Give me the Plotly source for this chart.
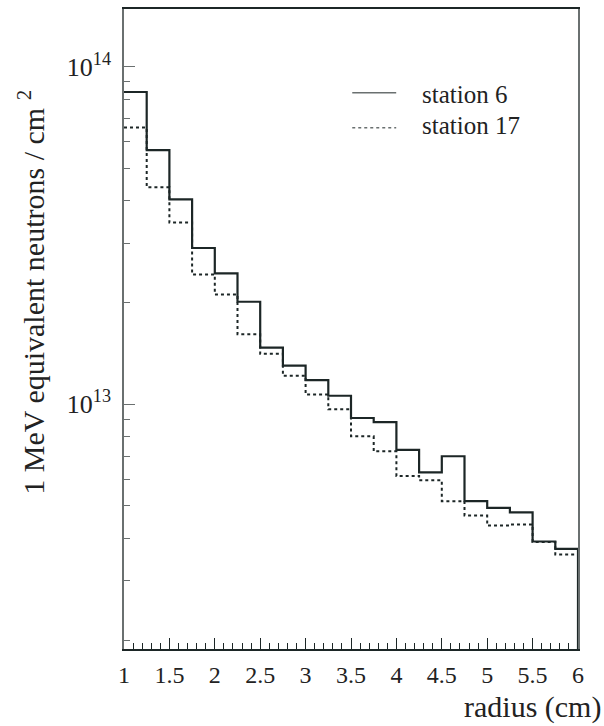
import plotly.graph_objects as go

# bin edges (radius, cm)
bin_edges = [1.0, 1.25, 1.5, 1.75, 2.0, 2.25, 2.5, 2.75, 3.0, 3.25, 3.5,
             3.75, 4.0, 4.25, 4.5, 4.75, 5.0, 5.25, 5.5, 5.75, 6.0]

# 1 MeV equivalent neutron fluence per bin (neutrons / cm^2)
station6 = [8.4e13, 5.65e13, 4.04e13, 2.90e13, 2.44e13, 2.01e13, 1.47e13, 1.30e13,
            1.178e13, 1.059e13, 9.1e12, 8.85e12, 7.32e12, 6.28e12, 7.01e12, 5.16e12,
            4.93e12, 4.78e12, 3.92e12, 3.73e12]
station17 = [6.59e13, 4.39e13, 3.45e13, 2.42e13, 2.11e13, 1.61e13, 1.41e13, 1.213e13,
             1.068e13, 9.65e12, 8.03e12, 7.25e12, 6.13e12, 5.95e12, 5.16e12, 4.68e12,
             4.37e12, 4.40e12, 3.91e12, 3.59e12]

x_ticks = [1, 1.5, 2, 2.5, 3, 3.5, 4, 4.5, 5, 5.5, 6]
x_ticktext = ["1", "1.5", "2", "2.5", "3", "3.5", "4", "4.5", "5", "5.5", "6"]
y_ticks = [1e13, 1e14]
y_ticktext = ["10<sup>13</sup>", "10<sup>14</sup>"]
y_minor = [m * 10 ** e for e in (12, 13) for m in range(2, 10)]

FLOOR = 1e12  # below visible range: histogram drops to the axis

FONT = "Liberation Serif, DejaVu Serif, Times New Roman, serif"
DARK = "#1c2626"
GRAY = "#6a7070"


def step_xy(vals):
    xs = list(bin_edges) + [bin_edges[-1]]
    ys = list(vals) + [vals[-1], FLOOR]
    return xs, ys


fig = go.Figure()
x6, y6 = step_xy(station6)
x17, y17 = step_xy(station17)
fig.add_trace(go.Scatter(x=x17, y=y17, mode="lines", line_shape="hv",
                         line=dict(color=DARK, width=2, dash="dot"),
                         name="station 17", showlegend=False))
fig.add_trace(go.Scatter(x=x6, y=y6, mode="lines", line_shape="hv",
                         line=dict(color=DARK, width=2.2),
                         name="station 6", showlegend=False))

L, R, T, B = 123.5, 26, 7, 77
W, H = 604, 726
pw, ph = W - L - R, H - T - B


def px(xp):
    return (xp - L) / pw


def py(yp):
    return (H - B - yp) / ph


# legend (manual)
fig.add_shape(type="line", xref="paper", yref="paper",
              x0=px(352), x1=px(396), y0=py(91), y1=py(91),
              line=dict(color=GRAY, width=1.5))
fig.add_shape(type="line", xref="paper", yref="paper",
              x0=px(352), x1=px(396), y0=py(126), y1=py(126),
              line=dict(color=GRAY, width=1.5, dash="dot"))
fig.add_annotation(xref="paper", yref="paper", x=px(420), y=py(93),
                   text="station 6", showarrow=False, xanchor="left", yanchor="middle",
                   font=dict(family=FONT, size=25, color="#222"))
fig.add_annotation(xref="paper", yref="paper", x=px(420), y=py(124),
                   text="station 17", showarrow=False, xanchor="left", yanchor="middle",
                   font=dict(family=FONT, size=25, color="#222"))

# axis titles
fig.add_annotation(xref="paper", yref="paper", x=px(603), y=py(707),
                   text="radius (cm)", showarrow=False, xanchor="right", yanchor="middle",
                   font=dict(family=FONT, size=30, color="#222"))
fig.add_annotation(xref="paper", yref="paper", x=px(31), y=py(291),
                   text="1 MeV equivalent neutrons / cm <sup>2</sup>", showarrow=False,
                   textangle=-90, xanchor="center", yanchor="middle",
                   font=dict(family=FONT, size=30, color="#222"))

fig.update_layout(
    width=W, height=H,
    margin=dict(l=L, r=R, t=T, b=B, pad=0),
    paper_bgcolor="white", plot_bgcolor="white",
    font=dict(family=FONT, color="#222"),
    showlegend=False,
)
fig.update_xaxes(
    range=[1, 6], showgrid=False, zeroline=False,
    showline=True, linecolor=DARK, linewidth=1.5, mirror=True,
    tickmode="array", tickvals=x_ticks, ticktext=x_ticktext,
    ticks="inside", ticklen=11, tickwidth=1, tickcolor=DARK,
    tickfont=dict(family=FONT, size=24, color="#222"),
    ticklabelstandoff=3,
    minor=dict(dtick=0.1, tick0=1, ticks="inside", ticklen=6, tickcolor=DARK, showgrid=False),
)
fig.update_yaxes(
    type="log", range=[12.275, 14.170], showgrid=False, zeroline=False,
    showline=True, linecolor=GRAY, linewidth=1.5, mirror=True,
    tickmode="array", tickvals=y_ticks, ticktext=y_ticktext,
    ticks="inside", ticklen=11, tickwidth=1, tickcolor=GRAY,
    tickfont=dict(family=FONT, size=26, color="#222"),
    ticklabelstandoff=6,
    minor=dict(tickmode="array", tickvals=y_minor, ticks="inside", ticklen=6,
               tickcolor=GRAY, showgrid=False),
)

fig.write_html("out.html")
